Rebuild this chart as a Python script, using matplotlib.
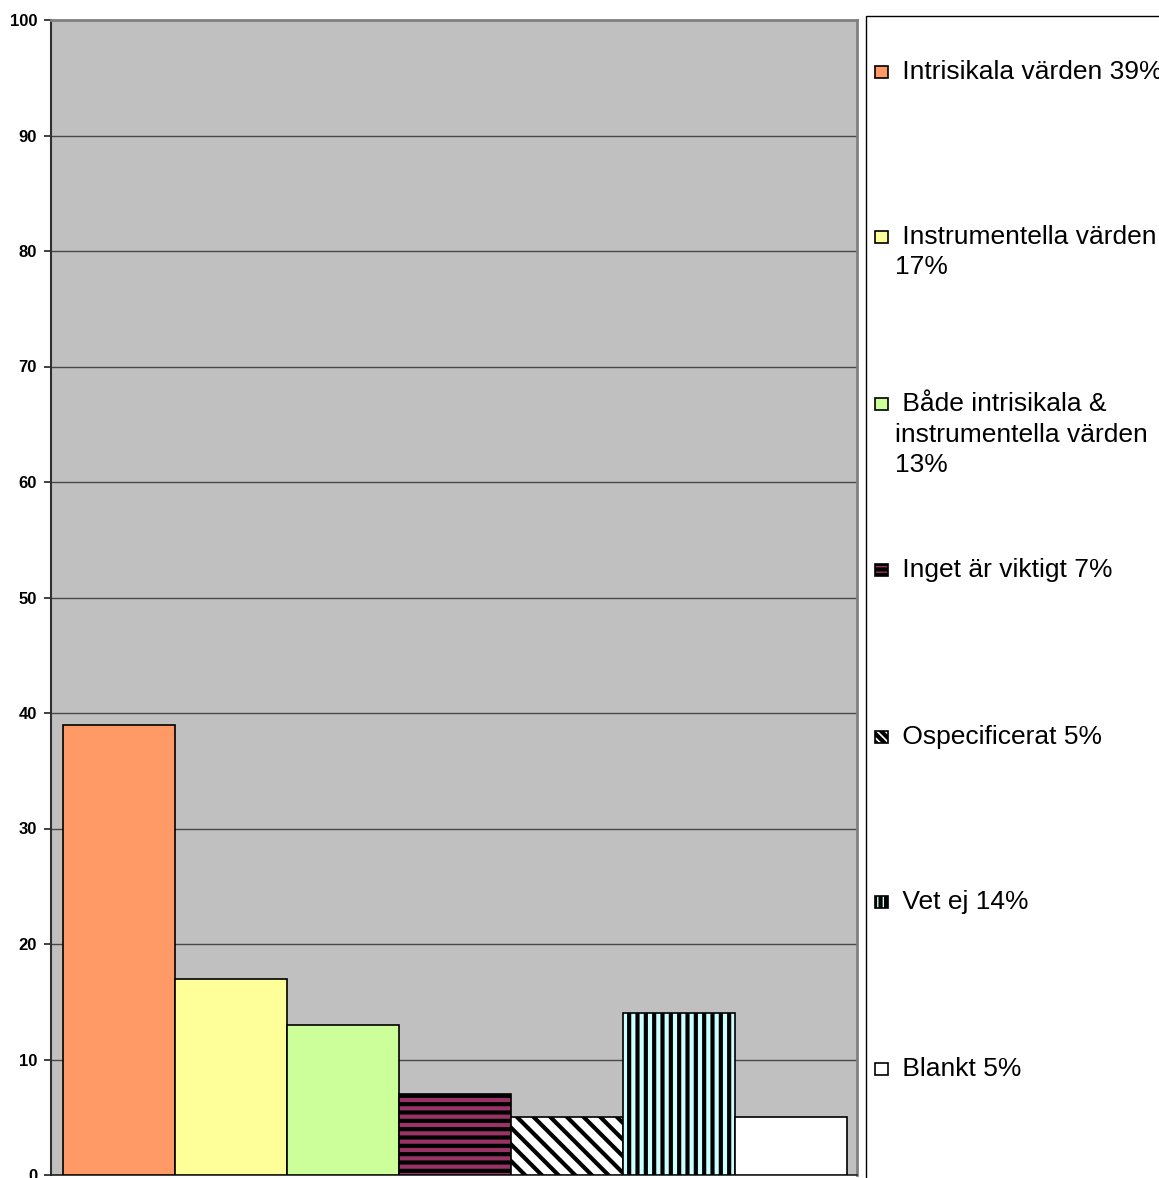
import matplotlib
matplotlib.use("Agg")
import matplotlib.pyplot as plt
from matplotlib.patches import Rectangle

plt.rcParams["font.family"] = ["Liberation Sans", "DejaVu Sans"]
plt.rcParams["hatch.linewidth"] = 3.0

# Survey answers (percent)
categories = [
    "Intrisikala värden 39%",
    "Instrumentella värden 17%",
    "Både intrisikala & instrumentella värden 13%",
    "Inget är viktigt 7%",
    "Ospecificerat 5%",
    "Vet ej 14%",
    "Blankt 5%",
]
values = [39, 17, 13, 7, 5, 14, 5]
legend_lines = [
    [" Intrisikala värden 39%"],
    [" Instrumentella värden", "17%"],
    [" Både intrisikala &", "instrumentella värden", "13%"],
    [" Inget är viktigt 7%"],
    [" Ospecificerat 5%"],
    [" Vet ej 14%"],
    [" Blankt 5%"],
]
colors = ["#FF9966", "#FFFF99", "#CCFF99", "#993366", "#FFFFFF", "#CCFFFF", "#FFFFFF"]
hatches = [None, None, None, "--", "\\\\", "||", None]
marker_hatches = [None, None, None, "---", "\\\\\\\\", "|||", None]
y_ticks = [0, 10, 20, 30, 40, 50, 60, 70, 80, 90, 100]

W, H = 1159, 1178
fig = plt.figure(figsize=(W / 100, H / 100), dpi=100)
fig.patch.set_facecolor("white")

# plot area in pixels: x 51..857, y 20..1175
ax = fig.add_axes([51 / W, 1 - 1175 / H, (857 - 51) / W, (1175 - 20) / H])
ax.set_facecolor("#C0C0C0")

x = list(range(len(values)))
for xi, v, c, h in zip(x, values, colors, hatches):
    ax.bar(xi, v, width=1.0, color=c, edgecolor="black", linewidth=1.2,
           hatch=h, zorder=3)

ax.set_xlim(-0.5 - 12 / 112, len(values) - 0.5 + 10 / 112)
ax.set_ylim(0, 100)
ax.set_yticks(y_ticks)
ax.set_yticklabels([str(t) for t in y_ticks], fontsize=12, fontweight="bold")
ax.set_xticks([])
ax.yaxis.grid(True, color="#484848", linewidth=1.0, zorder=1)
ax.set_axisbelow(True)
ax.tick_params(axis="y", direction="out", length=5, width=1.2, color="#202020", pad=5)

ax.spines["left"].set_color("#303030")
ax.spines["left"].set_linewidth(1.5)
ax.spines["bottom"].set_color("#202020")
ax.spines["bottom"].set_linewidth(1.2)
ax.spines["top"].set_color("#808080")
ax.spines["top"].set_linewidth(2.0)
ax.spines["right"].set_color("#808080")
ax.spines["right"].set_linewidth(2.0)


def fx(px):
    return px / W


def fy(py):
    return 1 - py / H


# legend frame (runs past the right and bottom figure edges)
fig.patches.append(Rectangle((fx(866), fy(1200)), fx(1200) - fx(866), fy(16) - fy(1200),
                             transform=fig.transFigure, facecolor="white",
                             edgecolor="black", linewidth=1.0, zorder=0))

entry_y = [72, 237, 404, 570, 737, 902, 1069]
line_gap = 30.5
for lines, c, h, ycen in zip(legend_lines, colors, marker_hatches, entry_y):
    fig.patches.append(Rectangle((fx(875), fy(ycen + 6)), fx(888) - fx(875), fy(ycen - 6) - fy(ycen + 6),
                                 transform=fig.transFigure, facecolor=c,
                                 edgecolor="black", linewidth=1.2, hatch=h, zorder=2))
    for i, line in enumerate(lines):
        fig.text(fx(895), fy(ycen + i * line_gap), line, fontsize=19,
                 ha="left", va="center", color="black")

fig.savefig("out.png", dpi=100)
